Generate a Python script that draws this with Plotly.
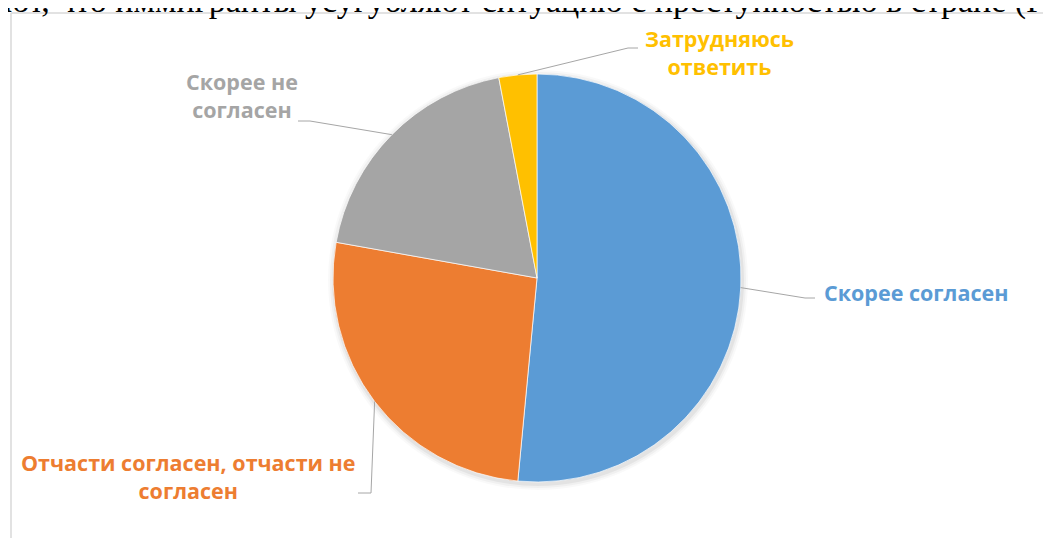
import math
import plotly.graph_objects as go

# ---- data ----
categories = ["Скорее согласен", "Отчасти согласен, отчасти не согласен", "Скорее не согласен", "Затрудняюсь ответить"]
label_texts = ["Скорее согласен", "Отчасти согласен, отчасти не<br>согласен", "Скорее не<br>согласен", "Затрудняюсь<br>ответить"]
values = [51.5, 26.3, 19.2, 3.0]
colors = ["#5B9BD5", "#ED7D31", "#A5A5A5", "#FFC000"]
header_text = "ют, что иммигранты усугубляют ситуацию с преступностью в стране (Г"

# ---- layout constants (pixels, in the photographed window) ----
W, H = 1051, 538
OFF = 8  # page body margin
CX, CY, R = 537, 278, 204

def px(x):
    return (x - OFF) / W

def py(y):
    return 1 - (y - OFF) / H

# label placement: (x, y, xanchor)
label_pos = [(822, 292, "left"), (188, 476, "center"), (242, 95, "center"), (719, 52, "center")]
# leader elbow points after the slice edge
leader_pts = [
    [(805, 298), (815, 298)],
    [(371, 493), (358, 493)],
    [(310, 121), (298, 121)],
    [(628, 48), (638, 48)],
]

fig = go.Figure()

# soft shadow
for k, a in [(6, 0.025), (4, 0.035), (2, 0.05)]:
    rr = R + k
    fig.add_trace(go.Pie(
        values=[1], marker=dict(colors=[f"rgba(0,0,0,{a})"], line=dict(width=0)),
        textinfo="none", hoverinfo="skip", showlegend=False, sort=False,
        domain=dict(x=[px(CX - rr + 1), px(CX + rr + 1)], y=[py(CY + rr + 2), py(CY - rr + 2)]),
    ))

fig.add_trace(go.Pie(
    labels=categories, values=values, sort=False, direction="clockwise", rotation=0,
    marker=dict(colors=colors, line=dict(color="white", width=0.7)),
    textinfo="none", hoverinfo="label+percent", showlegend=False,
    domain=dict(x=[px(CX - R), px(CX + R)], y=[py(CY + R), py(CY - R)]),
))

# leader lines + labels
total = sum(values)
cum = 0.0
for i, v in enumerate(values):
    mid = (cum + v / 2) / total * 2 * math.pi
    cum += v
    sx = CX + R * math.sin(mid)
    sy = CY - R * math.cos(mid)
    pts = [(sx, sy)] + leader_pts[i]
    path = "M " + " L ".join(f"{px(x)},{py(y)}" for x, y in pts)
    fig.add_shape(type="path", path=path, xref="paper", yref="paper",
                  line=dict(color="#A6A6A6", width=1))
    lx, ly, anc = label_pos[i]
    fig.add_annotation(x=px(lx), y=py(ly), xref="paper", yref="paper",
                       text=f"<b>{label_texts[i]}</b>", showarrow=False,
                       xanchor=anc, yanchor="middle", align="center",
                       font=dict(family="Open Sans", size=21.5, color=colors[i]))

# header text (cut off at top)
fig.add_annotation(x=px(2), y=py(1), xref="paper", yref="paper", text=header_text,
                   showarrow=False, xanchor="left", yanchor="middle",
                   font=dict(family="Liberation Serif", size=34, color="black"))

# frame lines
fig.add_shape(type="line", xref="paper", yref="paper", x0=px(11), x1=1.01, y0=py(13), y1=py(13),
              line=dict(color="#D9D9D9", width=1.5))
fig.add_shape(type="line", xref="paper", yref="paper", x0=px(11), x1=px(11), y0=py(13), y1=-0.01,
              line=dict(color="#D9D9D9", width=1.5))

fig.update_layout(width=W, height=H, margin=dict(l=0, r=0, t=0, b=0),
                  paper_bgcolor="white", plot_bgcolor="white", showlegend=False)

fig.write_html("out.html")
